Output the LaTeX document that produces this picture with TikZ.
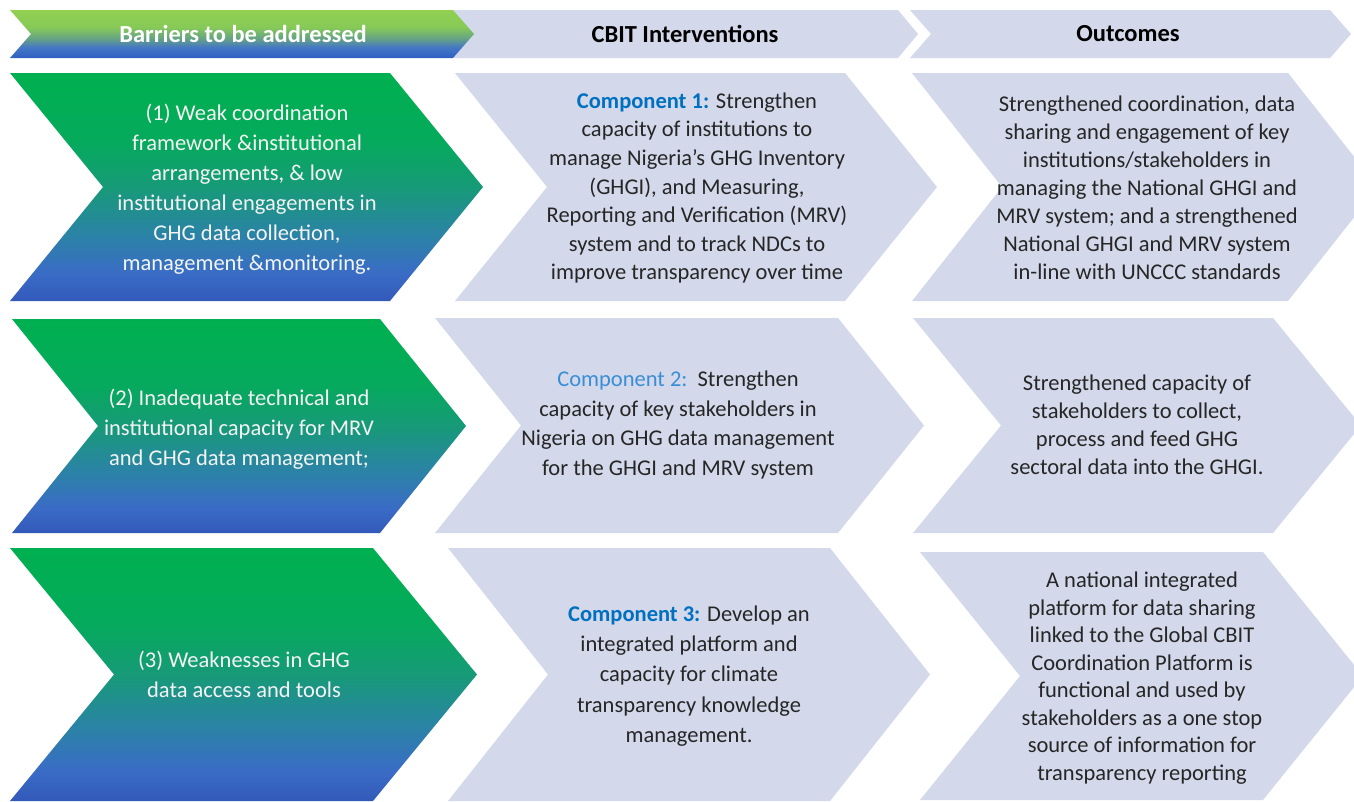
\documentclass[tikz,border=0pt]{standalone}
\usepackage{fontspec}
\setmainfont{Carlito}
\usetikzlibrary{shadings}

% palette
\definecolor{panel}{HTML}{D3D8EA}
\definecolor{bodytext}{HTML}{262626}
\definecolor{compblue}{HTML}{0070C0}
\definecolor{complight}{HTML}{3A8ED6}
\definecolor{offwhite}{HTML}{F4F4F4}
% header gradient stops
\definecolor{hA}{HTML}{92D050}
\definecolor{hB}{HTML}{86C957}
\definecolor{hC}{HTML}{64A186}
\definecolor{hD}{HTML}{4477C6}
\definecolor{hE}{HTML}{2F5FC2}
% barrier gradient stops
\definecolor{gA}{HTML}{00B050}
\definecolor{gB}{HTML}{05AA5C}
\definecolor{gC}{HTML}{179A78}
\definecolor{gD}{HTML}{2A84A4}
\definecolor{gE}{HTML}{3A6CC6}
\definecolor{gF}{HTML}{3359BA}

% path spans 25bp (bottom) .. 75bp (top)
\pgfdeclareverticalshading{headgrad}{100bp}{%
  color(0bp)=(hE); color(25bp)=(hE); color(36bp)=(hD); color(45bp)=(hC);
  color(57bp)=(hB); color(75bp)=(hA); color(100bp)=(hA)}
\pgfdeclareverticalshading{bargrad}{100bp}{%
  color(0bp)=(gF); color(25bp)=(gF); color(31bp)=(gE); color(40bp)=(gD);
  color(50bp)=(gC); color(60bp)=(gB); color(75bp)=(gA); color(100bp)=(gA)}

% chevron: style, left x, right x, depth, top y, bottom y
\newcommand\chev[6]{%
  \path[#1] (#2,#5) -- (#3,#5) -- ({#3+#4},{(#5+#6)/2}) -- (#3,#6)
    -- (#2,#6) -- ({#2+#4},{(#5+#6)/2}) -- cycle;}

\begin{document}
\begin{tikzpicture}[x=1pt,y=-1pt,
  headbar/.style={shading=headgrad},
  barbar/.style={shading=bargrad},
  greybar/.style={fill=panel},
  headtext/.style={font=\fontsize{24.5}{28}\selectfont\bfseries, inner sep=0pt},
  bartext/.style={text=offwhite, align=center, inner sep=0pt,
    font=\fontsize{22.5}{30}\selectfont},
  comptext/.style={text=bodytext, align=center, inner sep=0pt,
    font=\fontsize{22.5}{28.6}\selectfont},
  outtext/.style={text=bodytext, align=center, inner sep=0pt,
    font=\fontsize{22.5}{28}\selectfont},
]
\path[use as bounding box] (0,0) rectangle (1354,801);
\clip (0,0) rectangle (1354,801);

% header row
\chev{greybar}{910}{1330}{21}{10}{58}
\chev{greybar}{453}{898}{20}{10}{58}
\chev{headbar}{10}{453}{21}{10}{58}

% row 1
\chev{greybar}{912}{1288}{90}{73}{301}
\chev{greybar}{455}{845}{92}{73}{301}
\chev{barbar}{10}{390}{93}{73}{301}

% row 2
\chev{greybar}{913}{1273}{88}{318}{533}
\chev{greybar}{435}{838}{86}{318}{533}
\chev{barbar}{12}{380}{86}{319}{533}

% row 3
\chev{greybar}{920}{1263}{100}{552}{800}
\chev{greybar}{448}{830}{100}{548}{801}
\chev{barbar}{10}{373}{104}{548}{801}

% header labels
\node[headtext, text=white] (hbar) at (243,34) {Barriers to be addressed};
\node[headtext, text=black] (hint) at (685,34) {CBIT Interventions};
\node[headtext, text=black] (hout) at (1128,34) {Outcomes};

% barriers
\node[bartext] (bar1) at (247,189) {(1) Weak coordination\\framework \&institutional\\arrangements, \& low\\institutional engagements in\\GHG data collection,\\management \&monitoring.};
\node[bartext] (bar2) at (239,429) {(2) Inadequate technical and\\institutional capacity for MRV\\and GHG data management;};
\node[bartext] (bar3) at (244,674) {(3) Weaknesses in GHG\\data access and tools};

% interventions
\node[comptext] (int1) at (697,188) {{\color{compblue}\bfseries Component 1:} Strengthen\\capacity of institutions to\\manage Nigeria's GHG Inventory\\(GHGI), and Measuring,\\Reporting and Verification (MRV)\\system and to track NDCs to\\improve transparency over time};
\node[comptext, font=\fontsize{22.5}{29.6}\selectfont] (int2) at (678,425) {{\color{complight}Component 2:}\ \ Strengthen\\capacity of key stakeholders in\\Nigeria on GHG data management\\for the GHGI and MRV system};
\node[comptext, font=\fontsize{22.5}{30.2}\selectfont] (int3) at (689,676) {{\color{compblue}\bfseries Component 3:} Develop an\\integrated platform and\\capacity for climate\\transparency knowledge\\management.};

% outcomes
\node[outtext] (out1) at (1147,188) {Strengthened coordination, data\\sharing and engagement of key\\institutions/stakeholders in\\managing the National GHGI and\\MRV system; and a strengthened\\National GHGI and MRV system\\in-line with UNCCC standards};
\node[outtext] (out2) at (1137,425) {Strengthened capacity of\\stakeholders to collect,\\process and feed GHG\\sectoral data into the GHGI.};
\node[outtext, font=\fontsize{22.5}{27.5}\selectfont] (out3) at (1142,678) {A national integrated\\platform for data sharing\\linked to the Global CBIT\\Coordination Platform is\\functional and used by\\stakeholders as a one stop\\source of information for\\transparency reporting};
\end{tikzpicture}
\end{document}
